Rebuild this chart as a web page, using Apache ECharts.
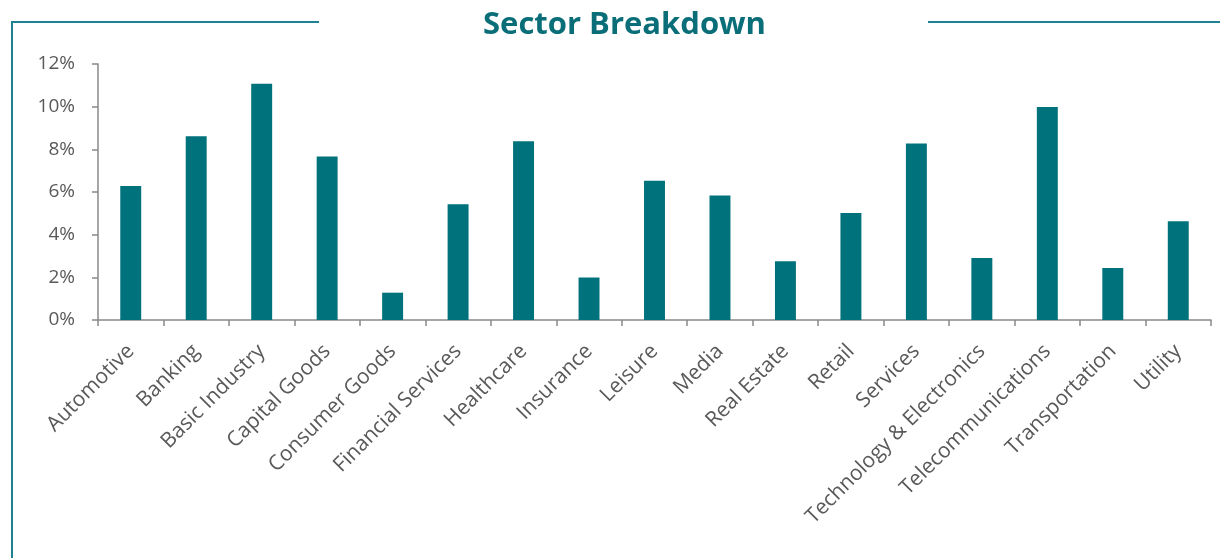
<!DOCTYPE html>
<html>
<head>
<meta charset="utf-8">
<script src="https://cdn.jsdelivr.net/npm/echarts@6/dist/echarts.min.js"></script>
<style>
html,body{margin:0;padding:0;background:#fff;}
#chart{width:1220px;height:558px;}
</style>
</head>
<body>
<div id="chart"></div>
<script>
const categories = ["Automotive","Banking","Basic Industry","Capital Goods","Consumer Goods","Financial Services","Healthcare","Insurance","Leisure","Media","Real Estate","Retail","Services","Technology & Electronics","Telecommunications","Transportation","Utility"];
const shares = [6.28, 8.61, 11.07, 7.66, 1.28, 5.43, 8.38, 1.99, 6.53, 5.84, 2.75, 5.01, 8.27, 2.91, 9.98, 2.44, 4.63];
const yTicks = [0, 2, 4, 6, 8, 10, 12];

const TEAL = '#00727c';
const FRAME = '#1f8290';
const GREY_TXT = '#595959';
const AXIS = '#898989';
const FONT = '"Open Sans", "Noto Sans", sans-serif';

const chart = echarts.init(document.getElementById('chart'), null, {renderer: 'canvas'});
chart.setOption({
  animation: false,
  backgroundColor: '#ffffff',
  title: {
    text: 'Sector Breakdown',
    left: 478,
    top: 5,
    textStyle: {color: '#0a6e78', fontFamily: FONT, fontWeight: 'bold', fontSize: 31}
  },
  graphic: [
    {type: 'line', shape: {x1: 12, y1: 22, x2: 319, y2: 22}, style: {stroke: FRAME, lineWidth: 2}},
    {type: 'line', shape: {x1: 928, y1: 22, x2: 1220, y2: 22}, style: {stroke: FRAME, lineWidth: 2}},
    {type: 'line', shape: {x1: 12, y1: 21, x2: 12, y2: 558}, style: {stroke: FRAME, lineWidth: 2}}
  ],
  grid: {left: 98, right: 9, top: 64, bottom: 238, containLabel: false},
  xAxis: {
    type: 'category',
    data: categories,
    boundaryGap: true,
    axisLine: {lineStyle: {color: AXIS, width: 1.5}},
    axisTick: {show: true, alignWithLabel: false, length: 6, lineStyle: {color: AXIS, width: 1.5}},
    axisLabel: {rotate: 45, interval: 0, color: GREY_TXT, fontFamily: FONT, fontSize: 21, margin: 28}
  },
  yAxis: {
    type: 'value',
    min: yTicks[0],
    max: yTicks[yTicks.length - 1],
    interval: 2,
    splitLine: {show: false},
    axisLine: {show: true, lineStyle: {color: AXIS, width: 1.5}},
    axisTick: {show: true, length: 6, lineStyle: {color: AXIS, width: 1.5}},
    axisLabel: {color: GREY_TXT, fontFamily: FONT, fontSize: 19, margin: 23, formatter: v => v + '%'}
  },
  series: [{
    type: 'bar',
    data: shares,
    barWidth: '32%',
    itemStyle: {color: TEAL}
  }]
});
</script>
</body>
</html>
